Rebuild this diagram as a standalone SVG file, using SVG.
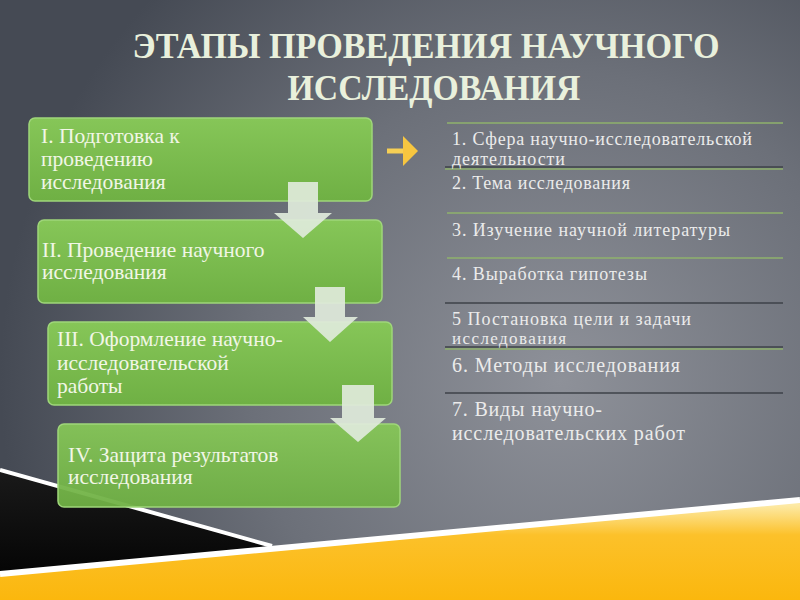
<svg xmlns="http://www.w3.org/2000/svg" width="800" height="600" viewBox="0 0 800 600">
<defs>
<radialGradient id="bg" cx="560" cy="380" r="560" gradientUnits="userSpaceOnUse">
<stop offset="0" stop-color="#8e9199"/>
<stop offset="0.55" stop-color="#6c7079"/>
<stop offset="1" stop-color="#454a54"/>
</radialGradient>
<linearGradient id="box" x1="0" y1="0" x2="0" y2="1">
<stop offset="0" stop-color="#86c658"/>
<stop offset="1" stop-color="#6fb044"/>
</linearGradient>
<linearGradient id="yel" x1="0" y1="500" x2="0" y2="600" gradientUnits="userSpaceOnUse">
<stop offset="0.05" stop-color="#fdeaa6"/>
<stop offset="0.35" stop-color="#fcc12a"/>
<stop offset="1" stop-color="#fbb70d"/>
</linearGradient>
<linearGradient id="blk" x1="0" y1="0" x2="0" y2="1">
<stop offset="0" stop-color="#1a1a1a"/>
<stop offset="1" stop-color="#050505"/>
</linearGradient>
</defs>
<style>
.title{font-family:"Liberation Serif","DejaVu Serif",serif;font-weight:bold;font-size:36px;fill:#e9f0dc}
.bx{fill:url(#box);stroke:#9fd67a;stroke-width:1.5}
.bt{font-family:"Liberation Serif","DejaVu Serif",serif;font-size:21.5px;fill:#f1f6e6}
.lt{font-family:"Liberation Serif","DejaVu Serif",serif;font-size:18px;fill:#ebebeb}
.lb{font-size:20px}
.ld{stroke:#3e4248;stroke-width:1.5}
.lg{stroke:#8fb26c;stroke-width:1.5}
.dn{fill:#e0eadb;fill-opacity:0.92}
</style>
<rect width="800" height="600" fill="url(#bg)"/>
<polygon points="0,470 272,546 0,574" fill="url(#blk)"/>
<polygon points="0,574 800,500 800,600 0,600" fill="url(#yel)"/>
<line x1="0" y1="470" x2="272" y2="546" stroke="#ffffff" stroke-width="4"/>
<line x1="0" y1="574" x2="800" y2="500" stroke="#ffffff" stroke-width="6"/>
<text class="title" x="426" y="58" text-anchor="middle" textLength="587" lengthAdjust="spacingAndGlyphs">ЭТАПЫ ПРОВЕДЕНИЯ НАУЧНОГО</text>
<text class="title" x="434" y="100" text-anchor="middle" textLength="293" lengthAdjust="spacingAndGlyphs">ИССЛЕДОВАНИЯ</text>
<g id="stage1">
<rect class="bx" x="29" y="118" width="343" height="83" rx="6"/>
<text class="bt" x="41" y="143">I. Подготовка к</text>
<text class="bt" x="41" y="166">проведению</text>
<text class="bt" x="41" y="189">исследования</text>
</g>
<g id="stage2">
<rect class="bx" x="38" y="220" width="344" height="83" rx="6"/>
<text class="bt" x="42" y="257">II. Проведение научного</text>
<text class="bt" x="42" y="279">исследования</text>
</g>
<g id="stage3">
<rect class="bx" x="48" y="322" width="344" height="83" rx="6"/>
<text class="bt" x="57" y="346">III. Оформление научно-</text>
<text class="bt" x="57" y="370">исследовательской</text>
<text class="bt" x="57" y="393">работы</text>
</g>
<g id="stage4">
<rect class="bx" x="58" y="424" width="342" height="83" rx="6" fill-opacity="0.95"/>
<text class="bt" x="68" y="462">IV. Защита результатов</text>
<text class="bt" x="68" y="484">исследования</text>
</g>
<g id="connectors">
<polygon class="dn" points="288,182 318,182 318,213 332,213 303,238 274,213 288,213"/>
<polygon class="dn" points="315,287 345,287 345,317 358,317 330,342 303,317 315,317"/>
<polygon class="dn" points="342,385 374,385 374,418 386,418 358,442 330,418 342,418"/>
<line x1="387" y1="151" x2="405" y2="151" stroke="#f6cf55" stroke-width="5"/>
<polygon points="403,136 418,151 403,166" fill="#f7c640"/>
</g>
<g id="list">
<g id="lines">
<line class="lg" x1="447" y1="123" x2="783" y2="123"/>
<line class="ld" x1="445" y1="167" x2="783" y2="167"/><line class="lg" x1="445" y1="169" x2="783" y2="169"/>
<line class="lg" x1="447" y1="213" x2="783" y2="213"/>
<line class="lg" x1="447" y1="258" x2="783" y2="258"/>
<line class="ld" x1="445" y1="303" x2="783" y2="303"/>
<line class="ld" x1="445" y1="347" x2="783" y2="347"/><line class="lg" x1="445" y1="349" x2="783" y2="349"/>
<line class="ld" x1="445" y1="393" x2="783" y2="393"/>
</g>
<g id="item1"><text class="lt" x="452" y="145" textLength="300">1. Сфера научно-исследовательской</text><text class="lt" x="452" y="165" textLength="113">деятельности</text></g>
<g id="item2"><text class="lt" x="452" y="189" textLength="178">2. Тема исследования</text></g>
<g id="item3"><text class="lt" x="452" y="236" textLength="278">3. Изучение научной литературы</text></g>
<g id="item4"><text class="lt" x="452" y="280" textLength="195">4. Выработка гипотезы</text></g>
<g id="item5"><text class="lt" x="452" y="325" textLength="239">5 Постановка цели и задачи</text><text class="lt" x="452" y="344" textLength="114" style="font-size:17px">исследования</text></g>
<g id="item6"><text class="lt lb" x="452" y="372" textLength="228">6. Методы исследования</text></g>
<g id="item7"><text class="lt lb" x="452" y="416" textLength="150">7. Виды научно-</text><text class="lt lb" x="452" y="440" textLength="233">исследовательских работ</text></g>
</g>
</svg>
